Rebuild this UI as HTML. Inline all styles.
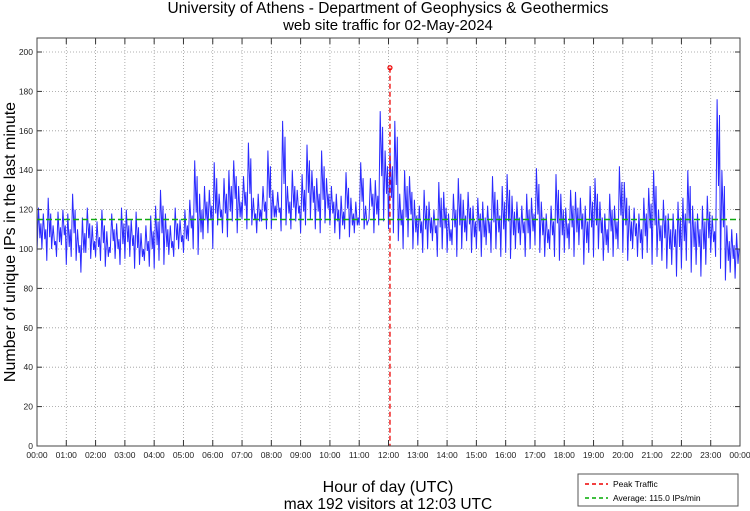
<!DOCTYPE html>
<html><head><meta charset="utf-8"><style>
body{margin:0;background:#fff;}
svg{display:block;font-family:"Liberation Sans",sans-serif;}
</style></head><body>
<svg id="chart" width="750" height="511" viewBox="0 0 750 511">
<text x="388" y="13" font-size="15.5" text-anchor="middle">University of Athens - Department of Geophysics &amp; Geothermics</text>
<text x="388" y="30" font-size="15" text-anchor="middle">web site traffic for 02-May-2024</text>
<text transform="translate(15,242) rotate(-90)" font-size="16" text-anchor="middle">Number of unique IPs in the last minute</text>
<text x="388" y="492" font-size="16" text-anchor="middle">Hour of day (UTC)</text>
<text x="388" y="509" font-size="15.5" text-anchor="middle">max 192 visitors at 12:03 UTC</text>
<g id="grid"></g><g id="series"></g><g id="axes"></g>
<g>
<rect x="578" y="474" width="160" height="32" fill="#fff" stroke="#555" stroke-width="1"/>
<line x1="585" y1="484" x2="608" y2="484" stroke="#e00" stroke-width="1.5" stroke-dasharray="4,3"/>
<text x="613" y="487" font-size="8.5">Peak Traffic</text>
<line x1="585" y1="498" x2="608" y2="498" stroke="#0a0" stroke-width="1.5" stroke-dasharray="4,3"/>
<text x="613" y="501" font-size="8.5">Average: 115.0 IPs/min</text>
</g>
</svg>
<script>
const hiVals=[121,118,126,112,119,120, 118,128,110,116,121,112, 114,120,109,118,113,121, 120,115,119,108,112,117, 122,130,118,112,121,115, 120,125,145,128,132,130, 144,128,136,140,145,132, 137,154,126,128,132,150, 130,129,165,132,140,130, 138,153,140,136,150,136, 132,128,127,139,126,124, 144,122,136,135,170,150, 150,165,128,140,137,125, 122,130,124,120,134,129, 118,128,136,125,129,122, 126,124,122,137,125,132, 138,127,124,122,128,126, 141,124,118,122,138,128, 121,130,129,126,122,132, 136,124,118,128,122,142, 134,122,121,118,126,131, 140,120,125,118,118,124, 126,140,122,118,122,127, 117,176,140,112,110,108];
const loVals=[98,100,94,100,96,102, 92,96,94,88,98,95, 96,94,91,98,95,92, 95,96,90,92,94,91, 90,94,92,97,96,100, 98,104,100,97,105,108, 100,112,108,106,114,108, 115,110,112,108,114,110, 110,116,109,112,110,114, 108,112,115,110,108,113, 112,108,105,110,106,108, 112,110,115,108,112,114, 110,108,104,100,106,100, 102,98,100,104,96,100, 98,102,96,100,104,98, 100,96,102,98,100,96, 98,95,100,102,96,100, 102,98,96,100,96,94, 98,100,96,102,92,98, 96,100,94,98,96,100, 98,94,100,96,95,98, 92,96,94,90,92,86, 90,94,88,92,86,92, 98,96,90,84,88,85];
const yTicks=[0,20,40,60,80,100,120,140,160,180,200];
const xTickLabels=["00:00","01:00","02:00","03:00","04:00","05:00","06:00","07:00","08:00","09:00","10:00","11:00","12:00","13:00","14:00","15:00","16:00","17:00","18:00","19:00","20:00","21:00","22:00","23:00","00:00"];
const peakMinute=723, peakValue=192, avgValue=115;
const L=37,R=740,T=38,B=446;
const X=m=>L+(R-L)*m/1440;
const Y=v=>B-(B-52)*v/200;
const NS="http://www.w3.org/2000/svg";
function mk(p,tag,a){const e=document.createElementNS(NS,tag);for(const k in a)e.setAttribute(k,a[k]);p.appendChild(e);return e;}
const grid=document.getElementById('grid'),axes=document.getElementById('axes'),ser=document.getElementById('series');
yTicks.forEach(v=>{
 const g=mk(grid,'line',{x1:L,x2:R,y1:Y(v),y2:Y(v),stroke:'#999','stroke-width':0.8,'stroke-dasharray':'1,2'});
 
 
 mk(axes,'line',{x1:L,x2:L+5,y1:Y(v),y2:Y(v),stroke:'#333'});
 mk(axes,'line',{x1:R-5,x2:R,y1:Y(v),y2:Y(v),stroke:'#333'});
 const t=mk(axes,'text',{x:L-4,y:Y(v)+3,'font-size':8.5,'text-anchor':'end',fill:'#222'});t.textContent=v;
 
 
});
xTickLabels.forEach((s,i)=>{
 const x=X(i*60);
 const g=mk(grid,'line',{x1:x,x2:x,y1:T,y2:B,stroke:'#999','stroke-width':0.8,'stroke-dasharray':'1,2'});
 
 
 mk(axes,'line',{x1:x,x2:x,y1:B,y2:B-6,stroke:'#333'});
 mk(axes,'line',{x1:x,x2:x,y1:T,y2:T+6,stroke:'#333'});
 const t=mk(axes,'text',{x:x,y:B+12,'font-size':8.5,'text-anchor':'middle',fill:'#222'});t.textContent=s;
 
 
});
const frame=mk(axes,'rect',{x:L,y:T,width:R-L,height:B-T,fill:'none',stroke:'#444'});


let d='';
for(let i=0;i<hiVals.length;i++){
 const m=i*10;
 d+=(i?'L':'M')+X(m).toFixed(1)+','+Y(loVals[i]).toFixed(1)+'L'+X(m+3).toFixed(1)+','+Y(hiVals[i]).toFixed(1)+'L'+X(m+6).toFixed(1)+','+Y((loVals[i]+hiVals[i])/2-4).toFixed(1)+'L'+X(m+8).toFixed(1)+','+Y(hiVals[i]-8).toFixed(1);
}
const line=mk(ser,'path',{d:d,fill:'none',stroke:'#2a2aff','stroke-width':1});


const avg=mk(ser,'line',{x1:L,x2:R,y1:Y(avgValue),y2:Y(avgValue),stroke:'#11aa11','stroke-width':1.5,'stroke-dasharray':'6,3'});


const pk=mk(ser,'line',{x1:X(peakMinute),x2:X(peakMinute),y1:Y(peakValue),y2:B,stroke:'#e00','stroke-width':1.3,'stroke-dasharray':'5,3'});


const pc=mk(ser,'circle',{cx:X(peakMinute),cy:Y(peakValue),r:2,fill:'none',stroke:'#e00','stroke-width':1.2});


</script>
</body></html>
